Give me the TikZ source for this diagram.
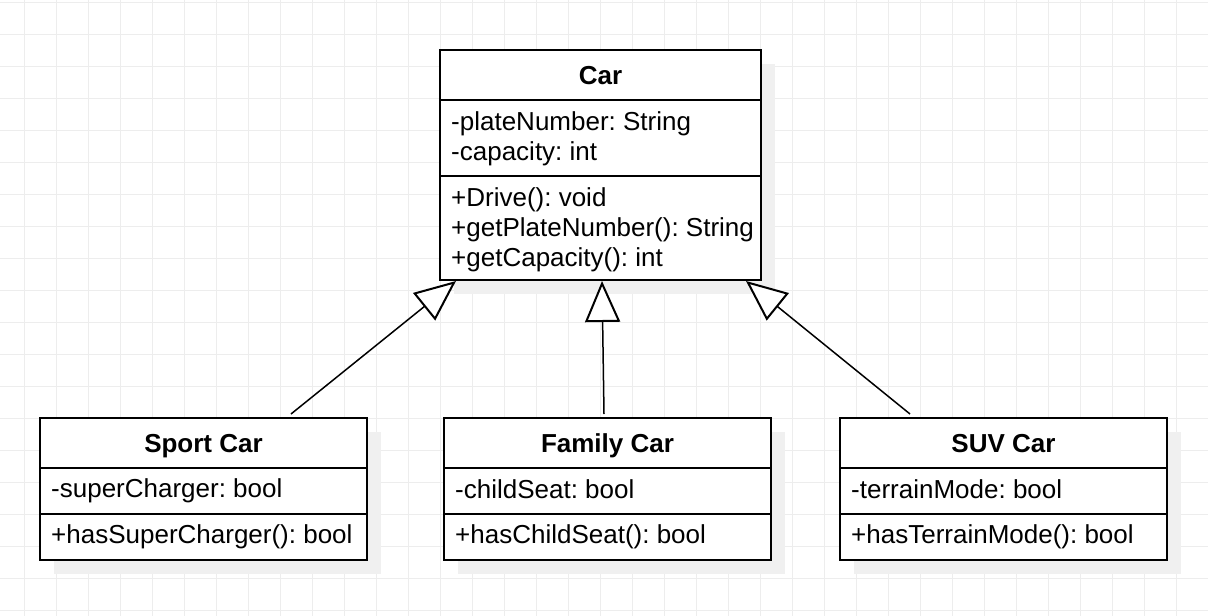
\documentclass[tikz,border=0pt]{standalone}
\usepackage{fontspec}
\setmainfont{Liberation Sans}
\usetikzlibrary{arrows.meta,shadows}
\frenchspacing

\tikzset{
  gridline/.style={line width=1pt, black!7},
  classbox/.style={draw, line width=2pt, fill=white, inner sep=0pt,
    drop shadow={shadow xshift=14pt, shadow yshift=-14pt, fill=black!6, opacity=1}},
  classname/.style={font=\fontsize{26}{30}\selectfont\bfseries, inner sep=0pt, anchor=base},
  members/.style={font=\fontsize{26}{30}\selectfont, align=left, anchor=west, inner sep=0pt},
  divider/.style={line width=2pt},
  inherit/.style={line width=1.5pt,
    -{Triangle[length=41pt, width=35pt, fill=white, line width=2pt]}},
}

\begin{document}
\begin{tikzpicture}[x=1pt, y=-1pt]
  \useasboundingbox (0,0) rectangle (1208,616);
  \fill[white] (0,0) rectangle (1208,616);

  % background grid
  \foreach \x in {24.5,56.5,...,1208}
    \draw[gridline] (\x,0) -- (\x,616);
  \foreach \y in {2,34,...,616}
    \draw[gridline] (0,\y) -- (1208,\y);

  % base class
  \node[classbox, minimum width=321pt, minimum height=230pt] (car) at (600.5,165) {};
  \draw[divider] (440,100) -- (761,100);
  \draw[divider] (440,176) -- (761,176);
  \node[classname] (carName) at (600.5,84) {Car};
  \node[members] (carAttr) at (451,138.5) {-plateNumber: String\\-capacity: int};
  \node[members] (carOps) at (451,229.5) {+Drive(): void\\+getPlateNumber(): String\\+getCapacity(): int};

  % sub classes
  \node[classbox, minimum width=327pt, minimum height=142pt] (sport) at (203.5,489) {};
  \draw[divider] (40,468) -- (367,468);
  \draw[divider] (40,514) -- (367,514);
  \node[classname] (sportName) at (203.5,452) {Sport Car};
  \node[members] (sportAttr) at (51,491) {-superCharger: bool};
  \node[members] (sportOps) at (51,537) {+hasSuperCharger(): bool};

  \node[classbox, minimum width=327pt, minimum height=142pt] (family) at (607.5,489) {};
  \draw[divider] (444,468) -- (771,468);
  \draw[divider] (444,514) -- (771,514);
  \node[classname] (familyName) at (607.5,452) {Family Car};
  \node[members] (familyAttr) at (455,489.5) {-childSeat: bool};
  \node[members] (familyOps) at (455,537) {+hasChildSeat(): bool};

  \node[classbox, minimum width=327pt, minimum height=142pt] (suv) at (1003.5,489) {};
  \draw[divider] (840,468) -- (1167,468);
  \draw[divider] (840,514) -- (1167,514);
  \node[classname] (suvName) at (1003.5,452) {SUV Car};
  \node[members] (suvAttr) at (851,489.5) {-terrainMode: bool};
  \node[members] (suvOps) at (851,537) {+hasTerrainMode(): bool};

  % generalisation
  \draw[inherit] ([xshift=-77pt,yshift=3pt]sport.north east) -- ([xshift=17pt]car.south west);
  \draw[inherit] ([xshift=-3.5pt,yshift=3pt]family.north) -- ([xshift=1.5pt]car.south);
  \draw[inherit] ([xshift=71pt,yshift=3pt]suv.north west) -- ([xshift=-16pt]car.south east);
\end{tikzpicture}
\end{document}
